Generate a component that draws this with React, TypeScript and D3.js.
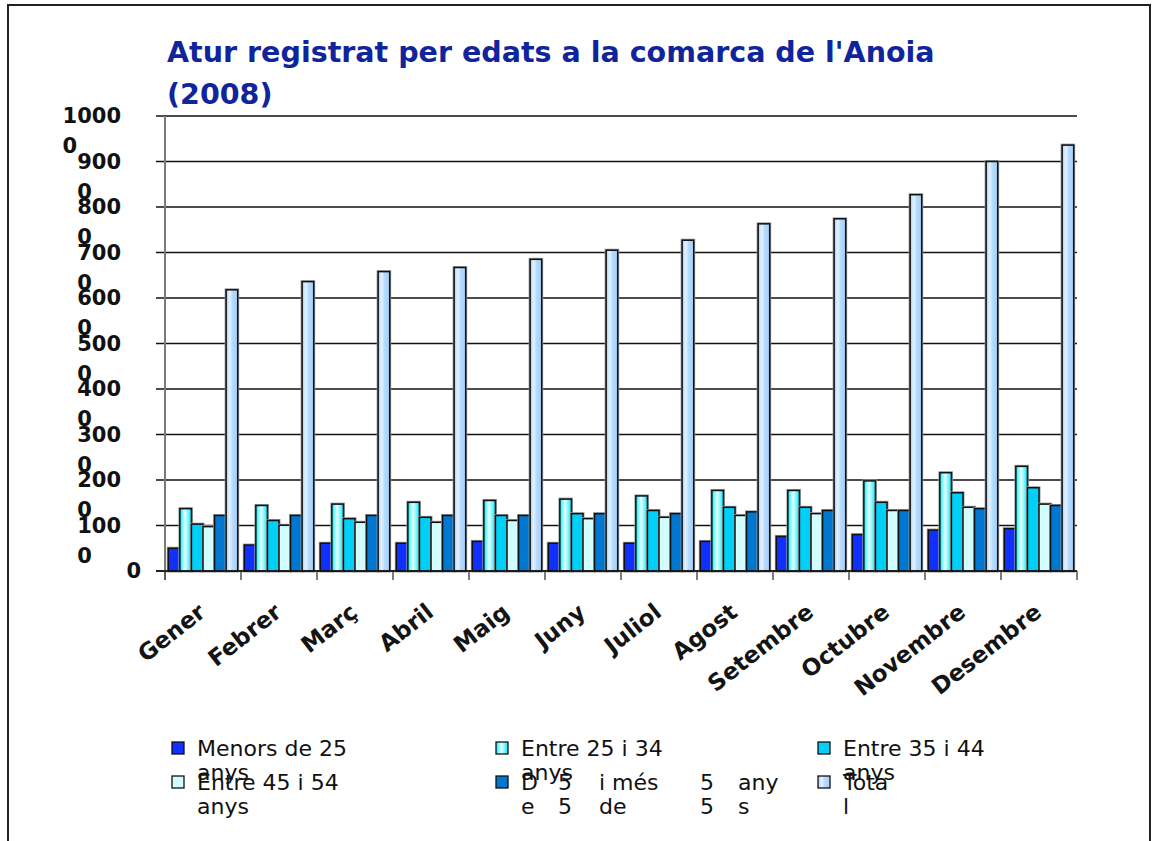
import { useEffect, useRef } from 'react'
import * as d3 from 'd3'

// Atur registrat per edats, Anoia 2008 (valors llegits del gràfic)
const MONTHS = ['Gener', 'Febrer', 'Març', 'Abril', 'Maig', 'Juny', 'Juliol', 'Agost', 'Setembre', 'Octubre', 'Novembre', 'Desembre']
const MENORS_25 = [500, 570, 610, 610, 650, 610, 610, 650, 760, 800, 900, 930]
const ENTRE_25_34 = [1370, 1440, 1470, 1510, 1550, 1580, 1650, 1770, 1770, 1980, 2160, 2300]
const ENTRE_35_44 = [1030, 1110, 1150, 1180, 1220, 1260, 1330, 1400, 1400, 1510, 1720, 1830]
const ENTRE_45_54 = [975, 1005, 1070, 1070, 1110, 1150, 1180, 1220, 1260, 1330, 1400, 1470]
const DE_55 = [1220, 1220, 1220, 1220, 1220, 1260, 1260, 1300, 1330, 1330, 1370, 1440]
const TOTAL = [6180, 6360, 6580, 6670, 6850, 7050, 7270, 7630, 7740, 8270, 9000, 9360]

const SERIES_KEYS = ['menors', 'e2534', 'e3544', 'e4554', 'de55', 'total']
const SERIES_VALUES = [MENORS_25, ENTRE_25_34, ENTRE_35_44, ENTRE_45_54, DE_55, TOTAL]
const Y_TICKS = [0, 1000, 2000, 3000, 4000, 5000, 6000, 7000, 8000, 9000, 10000]

// legend text as it shows up (wrapped pieces: [line1, line2])
const LEGEND_PIECES = [
  [['Menors de 25', 'anys']],
  [['Entre 25 i 34', 'anys']],
  [['Entre 35 i 44', 'anys']],
  [['Entre 45 i 54', 'anys']],
  [['D', 'e'], ['5', '5'], ['i més', 'de'], ['5', '5'], ['any', 's']],
  [['Tota', 'l']],
]
const PIECE_OFFSETS = [0, 37, 78, 179, 217]

const TITLE_LINES = ["Atur registrat per edats a la comarca de l'Anoia", '(2008)']

const FILLS = ['#1030ff', 'url(#g2534)', '#00cff8', '#d2fdff', '#0078d2', 'url(#gTotal)']
const FONT = "'Comic Sans MS', 'DejaVu Sans', sans-serif"

export default function App() {
  const svgRef = useRef<SVGSVGElement>(null)
  const width = 1152
  const height = 841

  useEffect(() => {
    if (!svgRef.current) return
    const svg = d3.select(svgRef.current)
    svg.selectAll('*').remove()

    const plot = { left: 165, right: 1077, top: 116, bottom: 571 }

    // gradients
    const defs = svg.append('defs')
    const g1 = defs.append('linearGradient').attr('id', 'g2534')
      .attr('x1', '0%').attr('x2', '100%').attr('y1', '0%').attr('y2', '0%')
    g1.append('stop').attr('offset', '0%').attr('stop-color', '#00f2ff')
    g1.append('stop').attr('offset', '45%').attr('stop-color', '#eaffff')
    g1.append('stop').attr('offset', '100%').attr('stop-color', '#00eeff')
    const g2 = defs.append('linearGradient').attr('id', 'gTotal')
      .attr('x1', '0%').attr('x2', '100%').attr('y1', '0%').attr('y2', '0%')
    g2.append('stop').attr('offset', '0%').attr('stop-color', '#9ccbf8')
    g2.append('stop').attr('offset', '30%').attr('stop-color', '#e6f2ff')
    g2.append('stop').attr('offset', '60%').attr('stop-color', '#b2d8fd')
    g2.append('stop').attr('offset', '100%').attr('stop-color', '#a6d2fb')

    // frame
    svg.append('rect')
      .attr('x', 8).attr('y', 5)
      .attr('width', 1142).attr('height', 900)
      .attr('fill', '#fff')
      .attr('stroke', '#222').attr('stroke-width', 2)

    // scales
    const x0 = d3.scaleBand<string>()
      .domain(MONTHS)
      .range([plot.left, plot.right])
      .paddingInner(0.087)
      .paddingOuter(0.0435)
    const x1 = d3.scaleBand<string>()
      .domain(SERIES_KEYS)
      .range([0, x0.bandwidth()])
    const y = d3.scaleLinear().domain([0, 10000]).range([plot.bottom, plot.top])

    // gridlines
    svg.append('g')
      .selectAll('line')
      .data(Y_TICKS)
      .join('line')
      .attr('x1', plot.left - 9)
      .attr('x2', plot.right)
      .attr('y1', d => y(d))
      .attr('y2', d => y(d))
      .attr('stroke', '#111')
      .attr('stroke-width', 1.3)

    // y axis line
    svg.append('line')
      .attr('x1', plot.left).attr('x2', plot.left)
      .attr('y1', plot.top).attr('y2', plot.bottom + 9)
      .attr('stroke', '#7a7a7a').attr('stroke-width', 2)

    // category ticks
    const boundaries = MONTHS.map(m => (x0(m) as number) - x0.step() * x0.paddingOuter())
    boundaries.push(plot.right)
    svg.append('g')
      .selectAll('line')
      .data(boundaries)
      .join('line')
      .attr('x1', d => d).attr('x2', d => d)
      .attr('y1', plot.bottom).attr('y2', plot.bottom + 9)
      .attr('stroke', '#555').attr('stroke-width', 1.5)

    // bars (grey halo under the black outline, like the original)
    SERIES_KEYS.forEach((key, si) => {
      const g = svg.append('g')
      const xs = (i: number) => (x0(MONTHS[i]) as number) + (x1(key) as number)
      g.selectAll('rect.halo')
        .data(SERIES_VALUES[si])
        .join('rect')
        .attr('class', 'halo')
        .attr('x', (_, i) => xs(i))
        .attr('y', d => y(d))
        .attr('width', x1.bandwidth())
        .attr('height', d => plot.bottom - y(d))
        .attr('fill', 'none')
        .attr('stroke', '#9a9a9a')
        .attr('stroke-width', 3)
      g.selectAll('rect.bar')
        .data(SERIES_VALUES[si])
        .join('rect')
        .attr('class', 'bar')
        .attr('x', (_, i) => xs(i))
        .attr('y', d => y(d))
        .attr('width', x1.bandwidth())
        .attr('height', d => plot.bottom - y(d))
        .attr('fill', FILLS[si])
        .attr('stroke', '#111')
        .attr('stroke-width', 1.5)
    })

    // x axis baseline on top of bars
    svg.append('line')
      .attr('x1', plot.left - 9).attr('x2', plot.right)
      .attr('y1', plot.bottom).attr('y2', plot.bottom)
      .attr('stroke', '#111').attr('stroke-width', 1.5)

    // y labels: wrapped like the original ("1000" / "0")
    const yLab = svg.append('g')
      .attr('font-family', FONT)
      .attr('font-size', 21)
      .attr('font-weight', 'bold')
      .attr('fill', '#111')
    Y_TICKS.forEach(v => {
      const s = String(v)
      if (v === 0) {
        yLab.append('text')
          .attr('x', 141).attr('y', y(v) + 7)
          .attr('text-anchor', 'end')
          .text(s)
        return
      }
      const first = yLab.append('text')
        .attr('x', 121).attr('y', y(v) + 7)
        .attr('text-anchor', 'end')
        .text(s.slice(0, -1))
      const w = (first.node() as SVGTextElement).getComputedTextLength()
      yLab.append('text')
        .attr('x', 121 - w).attr('y', y(v) + 37)
        .text(s.slice(-1))
    })

    // x labels
    svg.append('g')
      .selectAll('text')
      .data(MONTHS)
      .join('text')
      .attr('transform', d => `translate(${(x0(d) as number) + x0.bandwidth() / 2 + 4},${plot.bottom + 44}) rotate(-38)`)
      .attr('text-anchor', 'end')
      .attr('font-family', FONT)
      .attr('font-size', 23)
      .attr('font-weight', 'bold')
      .attr('fill', '#141414')
      .text(d => d)

    // title
    const title = svg.append('g')
      .attr('font-family', FONT)
      .attr('font-weight', 'bold')
      .attr('fill', '#10259c')
    const t1 = title.append('text')
      .attr('x', 167).attr('y', 62)
      .attr('font-size', 28)
      .text(TITLE_LINES[0])
    const tw = (t1.node() as SVGTextElement).getComputedTextLength()
    const fs = 28 * 768 / tw
    t1.attr('font-size', fs)
    title.append('text')
      .attr('x', 167).attr('y', 104)
      .attr('font-size', fs)
      .text(TITLE_LINES[1])

    // legend
    const colX = [172, 496, 818]
    const rowY = [748, 782]
    const leg = svg.append('g')
      .attr('font-family', FONT)
      .attr('font-size', 22)
      .attr('fill', '#111')
    LEGEND_PIECES.forEach((pieces, i) => {
      const cx = colX[i % 3]
      const cy = rowY[Math.floor(i / 3)]
      leg.append('rect')
        .attr('x', cx).attr('y', cy - 6)
        .attr('width', 12).attr('height', 12)
        .attr('fill', FILLS[i])
        .attr('stroke', '#111')
        .attr('stroke-width', 1.3)
      pieces.forEach((p, j) => {
        const tx = cx + 25 + PIECE_OFFSETS[j]
        leg.append('text').attr('x', tx).attr('y', cy + 8).text(p[0])
        leg.append('text').attr('x', tx).attr('y', cy + 32).text(p[1])
      })
    })
  }, [])

  return (
    <svg
      ref={svgRef}
      width={width}
      height={height}
      style={{ position: 'absolute', left: 0, top: 0, display: 'block', background: '#fff' }}
    />
  )
}
